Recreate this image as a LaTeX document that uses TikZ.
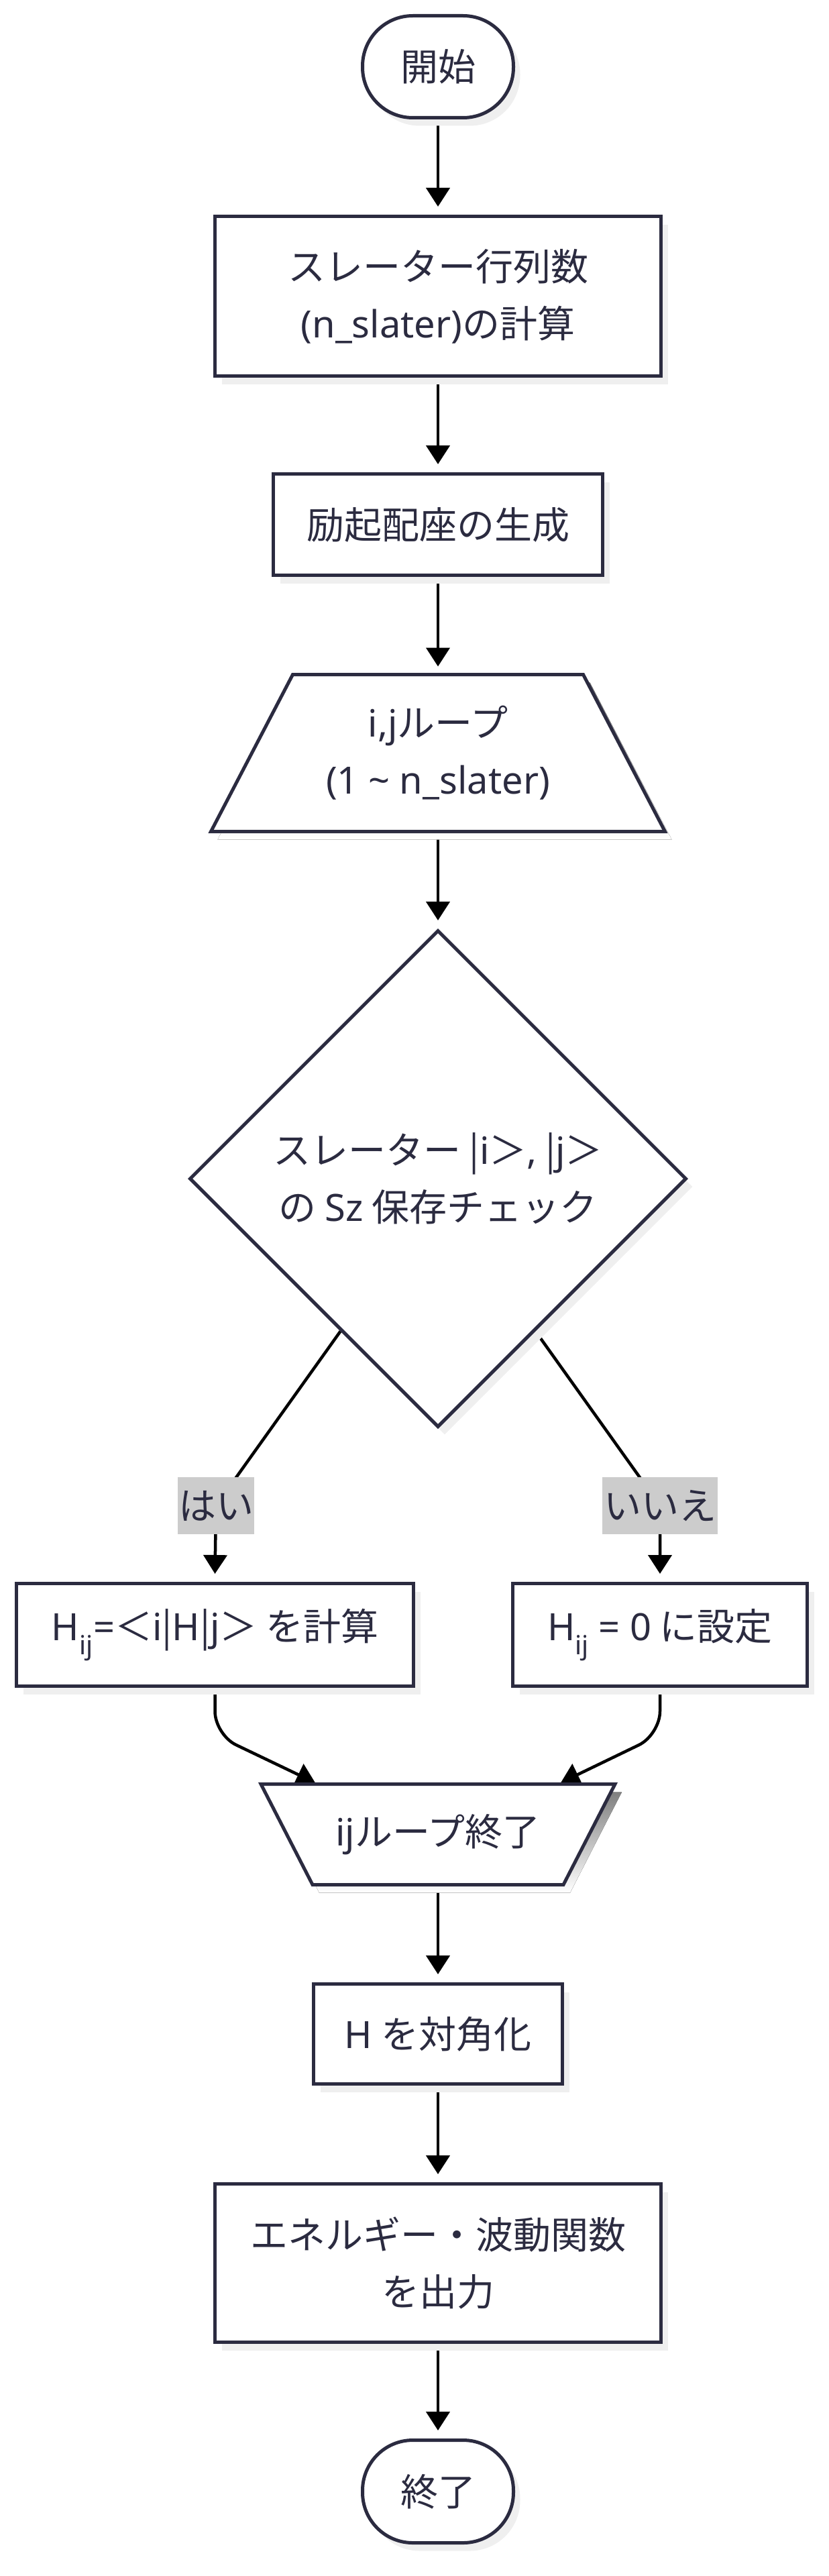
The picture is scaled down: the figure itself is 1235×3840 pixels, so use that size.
\documentclass[tikz,border=0pt]{standalone}
\usepackage{fontspec}
\setmainfont{Noto Sans CJK JP}
\newfontfamily\latnfont{Noto Sans}
\newcommand\latn[1]{{\latnfont #1}}
\usetikzlibrary{calc,shapes.geometric,shadows,arrows.meta}
\definecolor{ink}{HTML}{2B2B40}
\definecolor{shade}{HTML}{EFEFEF}
\definecolor{lblbg}{HTML}{CCCCCC}
\pgfdeclarelayer{edgelayer}
\pgfdeclarelayer{shapelayer}
\pgfsetlayers{edgelayer,shapelayer,main}
\tikzset{
  base/.style={font=\fontsize{56pt}{85pt}\selectfont, text=ink, align=center, inner sep=0pt},
  procbox/.style={base, draw=ink, line width=5pt, fill=white,
    drop shadow={shadow xshift=10pt, shadow yshift=-12pt, fill=shade, opacity=1}},
  shapetext/.style={base, outer sep=0pt},
  shapeline/.style={draw=ink, line width=5pt, fill=white},
  lbl/.style={base, fill=lblbg, minimum height=85pt, inner xsep=0pt},
  arr/.style={draw=black, line width=4.5pt, -{Triangle[length=28pt,width=35pt]}},
}
\begin{document}
\begin{tikzpicture}[x=1pt,y=-1pt]
\useasboundingbox (0,0) rectangle (1235,3840);
% nodes
\node[procbox, rounded corners=75pt, minimum width=225pt, minimum height=152pt] (start) at (653,99.5) {開始};
\node[procbox, minimum width=665pt, minimum height=238pt] (calc) at (653,441.5) {スレーター行列数\\\latn{(n\_slater)}の計算};
\node[procbox, minimum width=491pt, minimum height=151pt] (gen) at (653,782) {励起配座の生成};
\node[shapetext, minimum width=677pt, minimum height=234pt] (loop) at (653,1122.5) {\latn{i,j}ループ\\\latn{(1 \textasciitilde{} n\_slater)}};
\node[procbox, diamond, aspect=1, minimum width=741pt, minimum height=741pt] (check) at (653,1757) {スレーター |\latn{i}＞\latn{,} |\latn{j}＞\\の \latn{Sz} 保存チェック};
\node[lbl, minimum width=114pt] (yes) at (322,2244.5) {はい};
\node[lbl, minimum width=172pt] (no) at (984,2244.5) {いいえ};
\node[procbox, minimum width=592pt, minimum height=153pt] (hij) at (320.5,2437) {\latn{H\textsubscript{ij}=}＜\latn{i}|\latn{H}|\latn{j}＞ を計算};
\node[procbox, minimum width=439pt, minimum height=153pt] (hzero) at (984,2437) {\latn{H\textsubscript{ij} = 0} に設定};
\node[shapetext, minimum width=528pt, minimum height=150pt] (endloop) at (653,2734.5) {\latn{ij}ループ終了};
\node[procbox, minimum width=371pt, minimum height=149pt] (diag) at (653,3032) {\latn{H} を対角化};
\node[procbox, minimum width=665pt, minimum height=236pt] (out) at (653,3373.5) {エネルギー・波動関数\\を出力};
\node[procbox, rounded corners=75pt, minimum width=225pt, minimum height=153pt] (stop) at (653,3714) {終了};
% trapezoid outlines
\begin{pgfonlayer}{shapelayer}
\fill[shade] ([shift={(10,12)}]loop.south west) -- ([shift={(10,12)}]loop.south east)
  -- ([shift={(-112,12)}]loop.north east) -- ([shift={(132,12)}]loop.north west) -- cycle;
\draw[shapeline] (loop.south west) -- (loop.south east)
  -- ([xshift=-122pt]loop.north east) -- ([xshift=122pt]loop.north west) -- cycle;
\fill[shade] ([shift={(10,12)}]endloop.north west) -- ([shift={(10,12)}]endloop.north east)
  -- ([shift={(-67,12)}]endloop.south east) -- ([shift={(87,12)}]endloop.south west) -- cycle;
\draw[shapeline] (endloop.north west) -- (endloop.north east)
  -- ([xshift=-77pt]endloop.south east) -- ([xshift=77pt]endloop.south west) -- cycle;
\end{pgfonlayer}
% connectors
\begin{pgfonlayer}{edgelayer}
\draw[arr] (start.south) -- ($(calc.north)+(0,-12)$);
\draw[arr] (calc.south) -- ($(gen.north)+(0,-12)$);
\draw[arr] (gen.south) -- ($(loop.north)+(0,-12)$);
\draw[arr] (loop.south) -- ($(check.north)+(0,-12)$);
\draw[arr] ($(check.west)!0.61!(check.south)$) -- (yes.center) -- ($(hij.north)+(0,-12)$);
\draw[arr] ($(check.east)!0.61!(check.south)$) -- (no.center) -- ($(hzero.north)+(0,-12)$);
\draw[arr, rounded corners=35pt] (hij.south) -- ++(0,70) -- ($(endloop.north)+(-183,-2)$);
\draw[arr, rounded corners=35pt] (hzero.south) -- ++(0,70) -- ($(endloop.north)+(183,-2)$);
\draw[arr] (endloop.south) -- ($(diag.north)+(0,-12)$);
\draw[arr] (diag.south) -- ($(out.north)+(0,-12)$);
\draw[arr] (out.south) -- ($(stop.north)+(0,-12)$);
\end{pgfonlayer}
\end{tikzpicture}
\end{document}
